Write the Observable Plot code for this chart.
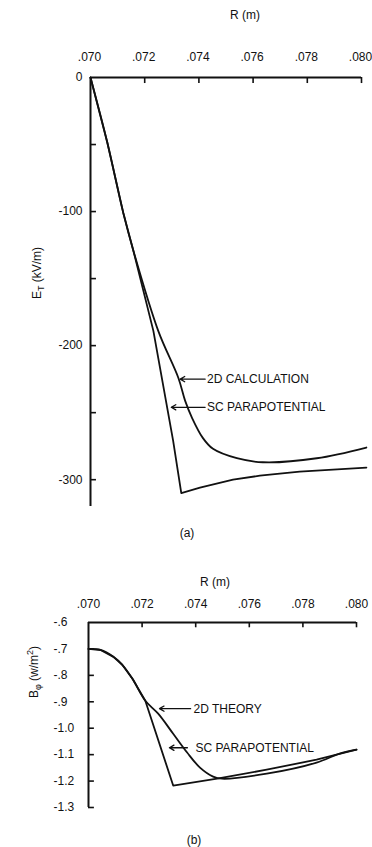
<!DOCTYPE html>
<html><head><meta charset="utf-8">
<script src="https://cdn.jsdelivr.net/npm/d3@7"></script>
<script src="https://cdn.jsdelivr.net/npm/@observablehq/plot@0.6"></script>
<style>
body{margin:0;background:#fff;}
#chart{width:372px;height:847px;overflow:hidden;}
#chart svg{display:block;overflow:visible;}
</style></head><body><div id="chart"></div>
<script>
// ---- data ----
const xTicks = [0.070, 0.072, 0.074, 0.076, 0.078, 0.080];
const aYTicksMajor = [0, -100, -200, -300];
const aYTicksMinor = [-50, -150, -250];
const bYTicks = [-0.6, -0.7, -0.8, -0.9, -1.0, -1.1, -1.2, -1.3];

// panel (a): E_T (kV/m) vs R (m)
const aR_2d = [0.0700, 0.07062, 0.07121, 0.07158, 0.0725, 0.07324, 0.07349, 0.07375, 0.07415, 0.07452, 0.0754, 0.07636, 0.07835, 0.08018];
const aE_2d = [0, -48.5, -101, -129, -189, -224, -241, -254, -269, -277, -284, -287, -284, -276];
const aR_sc = [0.0700, 0.07062, 0.07121, 0.07158, 0.07232, 0.07305, 0.07335, 0.07404, 0.07526, 0.07625, 0.07772, 0.08018];
const aE_sc = [0, -48.5, -101, -129, -189, -271, -310, -306, -300, -297, -294, -291];

// panel (b): B_phi (w/m^2) vs R (m)
const bR_2d = [0.0700, 0.07045, 0.07093, 0.07126, 0.07164, 0.07212, 0.0726, 0.07316, 0.07368, 0.07416, 0.07465, 0.07498, 0.07665, 0.07851, 0.07937, 0.0800];
const bB_2d = [-0.700, -0.704, -0.730, -0.760, -0.813, -0.896, -0.945, -1.021, -1.092, -1.149, -1.183, -1.191, -1.172, -1.130, -1.096, -1.081];
const bR_sc = [0.0700, 0.07045, 0.07093, 0.07126, 0.07164, 0.07212, 0.07316, 0.0748, 0.07665, 0.07851, 0.0800];
const bB_sc = [-0.700, -0.704, -0.730, -0.760, -0.813, -0.896, -1.217, -1.191, -1.157, -1.119, -1.081];

// annotations
const aLabels = ["2D CALCULATION", "SC PARAPOTENTIAL"];
const aArrowTail = [0.07423, 0.07423];
const aArrowHead = [0.07331, 0.07298];
const aLabelY = [-225, -246];
const aTextX = [0.0743, 0.0743];

const bLabels = ["2D THEORY", "SC PARAPOTENTIAL"];
const bArrowTail = [0.07381, 0.07369];
const bArrowHead = [0.07265, 0.07302];
const bLabelY = [-0.926, -1.074];
const bTextX = [0.07392, 0.07399];

// ---- build ----
const font = "'Liberation Sans', Arial, sans-serif";
const ink = "#111";
const fmtR = d => d.toFixed(3).replace(/^0/, "");
const zipXY = (xs, ys) => xs.map((x, i) => ({r: x, v: ys[i]}));
const ann = (labels, tail, head, ys, tx) => labels.map((l, i) => ({label: l, x1: tail[i], x2: head[i], y: ys[i], tx: tx[i]}));

const a2d = zipXY(aR_2d, aE_2d), asc = zipXY(aR_sc, aE_sc);
const b2d = zipXY(bR_2d, bB_2d), bsc = zipXY(bR_sc, bB_sc);
const annA = ann(aLabels, aArrowTail, aArrowHead, aLabelY, aTextX);
const annB = ann(bLabels, bArrowTail, bArrowHead, bLabelY, bTextX);

const style = {fontFamily: font, fontSize: "12px", color: ink, background: "#fff", overflow: "visible"};

const A = Plot.plot({
  width: 372, height: 560,
  marginTop: 77, marginLeft: 90, marginRight: 11, marginBottom: 54,
  style,
  x: {domain: [0.070, 0.080]},
  y: {domain: [-320, 0]},
  marks: [
    Plot.ruleY([0], {stroke: ink, strokeWidth: 2}),
    Plot.ruleX([0.070], {stroke: ink, strokeWidth: 2}),
    Plot.ruleX(xTicks.slice(1), {x: d => d, y1: 0, y2: -4.5, stroke: ink, strokeWidth: 1.6}),
    Plot.ruleY(aYTicksMajor.concat(aYTicksMinor).filter(d => d !== 0), {y: d => d, x1: 0.070, x2: 0.07022, stroke: ink, strokeWidth: 1.6}),
    Plot.axisX({anchor: "top", ticks: xTicks, tickSize: 0, tickPadding: 17, tickFormat: fmtR, label: null, fontSize: 12, dx: -1}),
    Plot.axisY({anchor: "left", ticks: aYTicksMajor, tickSize: 0, tickPadding: 8, tickFormat: d => String(d), label: null, fontSize: 12}),
    Plot.line(a2d, {x: "r", y: "v", curve: "catmull-rom", stroke: ink, strokeWidth: 1.8}),
    Plot.line(asc, {x: "r", y: "v", stroke: ink, strokeWidth: 1.8}),
    Plot.arrow(annA, {x1: "x1", x2: "x2", y1: "y", y2: "y", stroke: ink, strokeWidth: 1.3, headLength: 6}),
    Plot.text(annA, {x: "tx", y: "y", text: "label", textAnchor: "start", fontSize: 12, fill: ink})
  ]
});

const B = Plot.plot({
  width: 372, height: 287,
  marginTop: 62, marginLeft: 88, marginRight: 16, marginBottom: 40,
  style,
  x: {domain: [0.070, 0.080]},
  y: {domain: [-1.3, -0.6]},
  marks: [
    Plot.ruleY([-0.6], {stroke: ink, strokeWidth: 2}),
    Plot.ruleX([0.070], {stroke: ink, strokeWidth: 2}),
    Plot.ruleX(xTicks.slice(1), {x: d => d, y1: -0.6, y2: -0.62, stroke: ink, strokeWidth: 1.6}),
    Plot.ruleY(bYTicks.slice(1), {y: d => d, x1: 0.070, x2: 0.07022, stroke: ink, strokeWidth: 1.6}),
    Plot.axisX({anchor: "top", ticks: xTicks, tickSize: 0, tickPadding: 15, tickFormat: fmtR, label: null, fontSize: 12}),
    Plot.axisY({anchor: "left", ticks: bYTicks, tickSize: 0, tickPadding: 35, textAnchor: "start", tickFormat: d => d.toFixed(1).replace("0.", "."), label: null, fontSize: 12}),
    Plot.line(b2d, {x: "r", y: "v", curve: "catmull-rom", stroke: ink, strokeWidth: 1.8}),
    Plot.line(bsc, {x: "r", y: "v", stroke: ink, strokeWidth: 1.8}),
    Plot.arrow(annB, {x1: "x1", x2: "x2", y1: "y", y2: "y", stroke: ink, strokeWidth: 1.3, headLength: 6}),
    Plot.text(annB, {x: "tx", y: "y", text: "label", textAnchor: "start", fontSize: 12, fill: ink})
  ]
});

const chart = document.getElementById("chart");
chart.append(A, B);

function addText(svg, x, y, str) {
  return d3.select(svg).append("text")
    .attr("x", x).attr("y", y).attr("text-anchor", "middle")
    .attr("font-family", font).attr("font-size", 12).attr("fill", ink).text(str);
}
addText(A, 245, 19, "R (m)");
addText(A, 187, 537, "(a)");
addText(B, 215, 26, "R (m)");
addText(B, 194, 284, "(b)");

// rotated y labels with sub/superscripts
const la = d3.select(A).append("text")
  .attr("transform", "translate(41,273) rotate(-90)")
  .attr("text-anchor", "middle").attr("font-family", font).attr("font-size", 12).attr("fill", ink);
la.append("tspan").text("E");
la.append("tspan").attr("font-size", 9).attr("dy", 3).text("T");
la.append("tspan").attr("dy", -3).text(" (kV/m)");

const lb = d3.select(B).append("text")
  .attr("transform", "translate(38,112) rotate(-90)")
  .attr("text-anchor", "middle").attr("font-family", font).attr("font-size", 12).attr("fill", ink);
lb.append("tspan").text("B");
lb.append("tspan").attr("font-size", 9).attr("dy", 3).text("φ");
lb.append("tspan").attr("dy", -3).text(" (w/m");
lb.append("tspan").attr("font-size", 9).attr("dy", -5).text("2");
lb.append("tspan").attr("dy", 5).text(")");
</script></body></html>
